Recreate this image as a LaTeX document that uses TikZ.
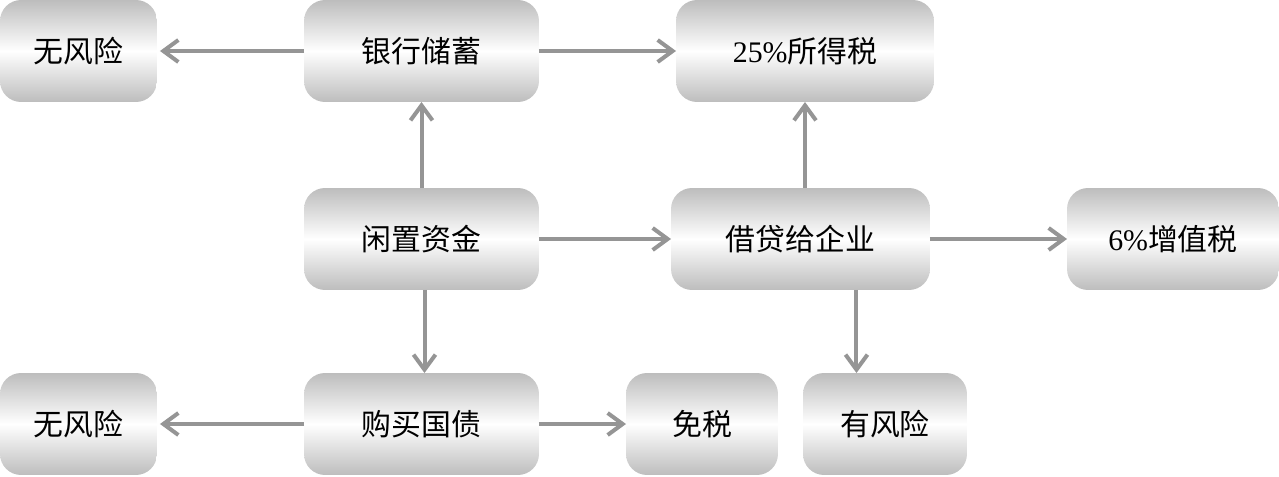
\documentclass[tikz,border=0pt]{standalone}
\usepackage{fontspec}
\setmainfont{Liberation Serif}
\newfontfamily\cjk{Noto Sans CJK SC}
\usetikzlibrary{arrows.meta}
\definecolor{vbox}{HTML}{BDBDBD}
\definecolor{varrow}{HTML}{959595}
\tikzset{
	fbox/.style = {rounded corners = 0.42cm, top color = vbox, bottom color = vbox, middle color = white, minimum height = 2.04cm, inner sep = 0pt, outer sep = 0pt, font = \fontsize{17}{20}\selectfont\cjk},
	farrow/.style = {draw = varrow, line width = 0.08cm, -{Straight Barb[length = 0.3cm, width = 0.44cm]}}
}
\begin{document}
\begin{tikzpicture}[x = 0.02cm, y = -0.02cm]
	\useasboundingbox (0,0) rectangle (1279,477);
	% boxes
	\node[fbox, minimum width = 3.14cm] (wfxa) at (78.5,51) {无风险};
	\node[fbox, minimum width = 4.7cm] (yhcx) at (421.5,51) {银行储蓄};
	\node[fbox, minimum width = 5.16cm] (sds) at (805,51) {{\rmfamily 25\%}所得税};
	\node[fbox, minimum width = 4.7cm] (xzzj) at (421.5,239) {闲置资金};
	\node[fbox, minimum width = 5.18cm] (jdqy) at (800.5,239) {借贷给企业};
	\node[fbox, minimum width = 4.24cm] (zzs) at (1173,239) {{\rmfamily 6\%}增值税};
	\node[fbox, minimum width = 3.14cm] (wfxb) at (78.5,424) {无风险};
	\node[fbox, minimum width = 4.7cm] (gmgz) at (421.5,424) {购买国债};
	\node[fbox, minimum width = 3.04cm] (ms) at (702,424) {免税};
	\node[fbox, minimum width = 3.28cm] (yfx) at (885,424) {有风险};
	% arrows
	\draw[farrow] (yhcx.west) -- ([xshift = 0.06cm]wfxa.east);
	\draw[farrow] (yhcx.east) -- (sds.west);
	\draw[farrow] (xzzj.north) -- (yhcx.south);
	\draw[farrow] (xzzj.east) -- (jdqy.west);
	\draw[farrow] ([xshift = 0.06cm]xzzj.south) -- ([xshift = 0.06cm]gmgz.north);
	\draw[farrow] (jdqy.north -| sds.south) -- (sds.south);
	\draw[farrow] (jdqy.east) -- (zzs.west);
	\draw[farrow] ([xshift = 1.12cm]jdqy.south) -- ([xshift = 1.12cm]jdqy.south |- yfx.north);
	\draw[farrow] (gmgz.west) -- ([xshift = 0.06cm]wfxb.east);
	\draw[farrow] (gmgz.east) -- (ms.west);
\end{tikzpicture}
\end{document}
